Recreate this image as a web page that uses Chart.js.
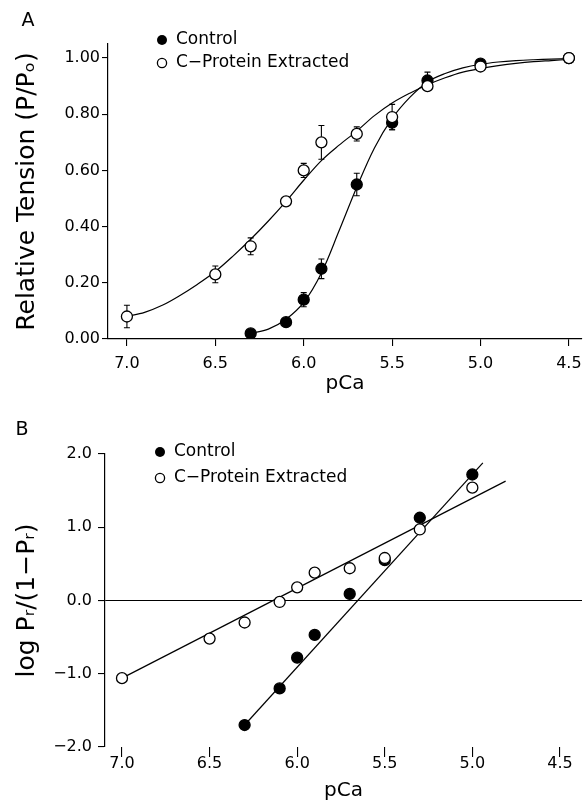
<!DOCTYPE html>
<html><head><meta charset="utf-8">
<script src="https://cdn.jsdelivr.net/npm/chart.js@4.4.0/dist/chart.umd.min.js"></script>
<style>
html,body{margin:0;padding:0;background:#fff;width:584px;height:810px;overflow:hidden}
.wrap{position:absolute;left:0;width:584px}
#wa{top:0;height:400px}
#wb{top:400px;height:410px}
canvas{display:block}
</style></head><body>
<div class="wrap" id="wa"><canvas id="ca" width="584" height="400"></canvas></div>
<div class="wrap" id="wb"><canvas id="cb" width="584" height="410"></canvas></div>
<script>
// ---------- data ----------
const seriesNames = ['Control', 'C\u2212Protein Extracted'];
const xTicks = [7.0, 6.5, 6.0, 5.5, 5.0, 4.5];
const yTicksA = [0, 0.2, 0.4, 0.6, 0.8, 1.0];
const yTicksB = [-2, -1, 0, 1, 2];

// Panel A: relative tension
const pCaControlA = [6.3, 6.1, 6.0, 5.9, 5.7, 5.5, 5.3, 5.0, 4.5];
const tensionControl = [0.02, 0.06, 0.14, 0.25, 0.55, 0.77, 0.92, 0.98, 1.00];
const errControl = [0, 0.01, 0.025, 0.035, 0.04, 0.025, 0.03, 0.01, 0];
const pCaExtractedA = [7.0, 6.5, 6.3, 6.1, 6.0, 5.9, 5.7, 5.5, 5.3, 5.0, 4.5];
const tensionExtracted = [0.08, 0.23, 0.33, 0.49, 0.60, 0.70, 0.73, 0.79, 0.90, 0.97, 1.00];
const errExtracted = [0.04, 0.03, 0.03, 0.01, 0.025, 0.06, 0.025, 0.045, 0.015, 0.01, 0];

// fitted curves
const curvePCaControl = [6.3, 6.2, 6.1, 6.0, 5.9, 5.8, 5.7, 5.6, 5.5, 5.4, 5.3, 5.2, 5.1, 5.0, 4.9, 4.8, 4.7, 4.6, 4.5];
const curveControl = [0.02, 0.035, 0.07, 0.13, 0.235, 0.385, 0.54, 0.68, 0.785, 0.86, 0.915, 0.945, 0.965, 0.978, 0.986, 0.991, 0.994, 0.996, 0.998];
const curvePCaExtracted = [7.0, 6.9, 6.8, 6.7, 6.6, 6.5, 6.4, 6.3, 6.2, 6.1, 6.0, 5.9, 5.8, 5.7, 5.6, 5.5, 5.4, 5.3, 5.2, 5.1, 5.0, 4.9, 4.8, 4.7, 4.6, 4.5];
const curveExtracted = [0.08, 0.095, 0.12, 0.155, 0.195, 0.24, 0.295, 0.355, 0.42, 0.49, 0.565, 0.635, 0.69, 0.74, 0.795, 0.84, 0.875, 0.905, 0.93, 0.95, 0.963, 0.973, 0.981, 0.987, 0.991, 0.995];

// Panel B: Hill plot
const pCaControlB = [6.3, 6.1, 6.0, 5.9, 5.7, 5.5, 5.3, 5.0];
const logControl = [-1.70, -1.20, -0.78, -0.47, 0.09, 0.55, 1.13, 1.72];
const pCaExtractedB = [7.0, 6.5, 6.3, 6.1, 6.0, 5.9, 5.7, 5.5, 5.3, 5.0];
const logExtracted = [-1.06, -0.52, -0.30, -0.02, 0.18, 0.38, 0.44, 0.58, 0.97, 1.54];
const fitPCaControlB = [6.3, 4.94];
const fitControlB = [-1.70, 1.88];
const fitPCaExtractedB = [7.0, 4.81];
const fitExtractedB = [-1.06, 1.63];

// ---------- helpers ----------
const FONT = 'DejaVu Sans';
const pts = (xs, ys) => xs.map((x, i) => ({x: x, y: ys[i]}));

function pointSet(label, xs, ys, filled) {
  return {label: label, data: pts(xs, ys), showLine: false, order: 1,
    pointRadius: 5.5, pointHoverRadius: 5.5, pointBorderWidth: 1.3,
    pointBorderColor: '#000', pointBackgroundColor: filled ? '#000' : '#fff'};
}
function lineSet(xs, ys, smooth) {
  return {label: '', data: pts(xs, ys), showLine: true, order: 2,
    pointRadius: 0, borderColor: '#000', borderWidth: 1.2, fill: false,
    tension: smooth ? 0.35 : 0};
}

function drawLegend(ctx, x, y1, y2) {
  ctx.save();
  ctx.lineWidth = 1.3; ctx.strokeStyle = '#000';
  ctx.beginPath(); ctx.arc(x, y1, 5, 0, Math.PI * 2); ctx.fillStyle = '#000'; ctx.fill();
  ctx.beginPath(); ctx.arc(x, y2, 4.6, 0, Math.PI * 2); ctx.fillStyle = '#fff'; ctx.fill(); ctx.stroke();
  ctx.fillStyle = '#000'; ctx.font = '17px "' + FONT + '"'; ctx.textBaseline = 'middle'; ctx.textAlign = 'left';
  ctx.fillText(seriesNames[0], x + 14, y1);
  ctx.fillText(seriesNames[1], x + 14, y2);
  ctx.restore();
}
function drawLetter(ctx, t, x, y) {
  ctx.save(); ctx.fillStyle = '#000'; ctx.font = '19px "' + FONT + '"';
  ctx.textAlign = 'center'; ctx.textBaseline = 'middle'; ctx.fillText(t, x, y); ctx.restore();
}

const commonX = (min, max, hasBorder, tickLen, pad, h) => ({
  type: 'linear', reverse: true, min: min, max: max,
  afterBuildTicks: s => { s.ticks = xTicks.map(v => ({value: v})); },
  afterFit: s => { s.height = h; s.paddingLeft = 0; s.paddingRight = 0; },
  grid: {display: true, drawOnChartArea: false, drawTicks: true, tickLength: tickLen, color: '#000', tickColor: '#000', lineWidth: 1.1},
  border: {display: hasBorder, color: '#000', width: 1.2},
  ticks: {color: '#000', font: {family: FONT, size: 16}, padding: pad, autoSkip: false, maxRotation: 0,
    callback: v => v.toFixed(1)},
  title: {display: true, text: 'pCa', color: '#000', font: {family: FONT, size: 20}, padding: {top: 0, bottom: 4}}
});

// ---------- Panel A ----------
const errorBarsA = {
  id: 'errA',
  beforeDatasetsDraw(chart) {
    const ctx = chart.ctx, xs = chart.scales.x, ys = chart.scales.y;
    ctx.save(); ctx.strokeStyle = '#000'; ctx.lineWidth = 1.1;
    [[pCaControlA, tensionControl, errControl], [pCaExtractedA, tensionExtracted, errExtracted]].forEach(([px, py, pe]) => {
      px.forEach((p, i) => {
        if (!pe[i]) return;
        const x = xs.getPixelForValue(p), yt = ys.getPixelForValue(py[i] + pe[i]), yb = ys.getPixelForValue(py[i] - pe[i]);
        ctx.beginPath();
        ctx.moveTo(x, yt); ctx.lineTo(x, yb);
        ctx.moveTo(x - 3, yt); ctx.lineTo(x + 3, yt);
        ctx.moveTo(x - 3, yb); ctx.lineTo(x + 3, yb);
        ctx.stroke();
      });
    });
    ctx.restore();
  },
  afterDraw(chart) {
    drawLetter(chart.ctx, 'A', 28, 21);
    drawLegend(chart.ctx, 162, 40, 63);
  }
};

new Chart(document.getElementById('ca'), {
  type: 'scatter',
  data: {datasets: [
    lineSet(curvePCaControl, curveControl, true),
    lineSet(curvePCaExtracted, curveExtracted, true),
    pointSet(seriesNames[1], pCaExtractedA, tensionExtracted, false),
    pointSet(seriesNames[0], pCaControlA, tensionControl, true)
  ]},
  options: {
    responsive: false, animation: false, devicePixelRatio: 1,
    layout: {autoPadding: false, padding: {top: 44, right: 2, left: 0, bottom: 0}},
    plugins: {legend: {display: false}, tooltip: {enabled: false}},
    scales: {
      x: commonX(4.426, 7.107, true, 7, 8, 61),
      y: {type: 'linear', min: 0, max: 1.05,
        afterBuildTicks: s => { s.ticks = yTicksA.map(v => ({value: v})); },
        afterFit: s => { s.width = 108; s.paddingTop = 0; s.paddingBottom = 0; },
        grid: {display: true, drawOnChartArea: false, drawTicks: true, tickLength: 6, color: '#000', tickColor: '#000', lineWidth: 1.1},
        border: {display: true, color: '#000', width: 1.2},
        ticks: {color: '#000', font: {family: FONT, size: 16}, padding: 2, callback: v => v.toFixed(2)},
        title: {display: true, text: 'Relative Tension (P/P\u2092)', color: '#000', font: {family: FONT, size: 25}, padding: {top: 12, bottom: 0}}
      }
    }
  },
  plugins: [errorBarsA]
});

// ---------- Panel B ----------
const decoB = {
  id: 'decoB',
  afterDraw(chart) {
    drawLetter(chart.ctx, 'B', 22, 30);
    drawLegend(chart.ctx, 160, 52, 78);
  }
};

new Chart(document.getElementById('cb'), {
  type: 'scatter',
  data: {datasets: [
    lineSet(fitPCaControlB, fitControlB, false),
    lineSet(fitPCaExtractedB, fitExtractedB, false),
    pointSet(seriesNames[1], pCaExtractedB, logExtracted, false),
    pointSet(seriesNames[0], pCaControlB, logControl, true)
  ]},
  options: {
    responsive: false, animation: false, devicePixelRatio: 1,
    layout: {autoPadding: false, padding: {top: 54, right: 2, left: 0, bottom: 3}},
    plugins: {legend: {display: false}, tooltip: {enabled: false}},
    scales: {
      x: commonX(4.374, 7.097, false, 10, -3, 60),
      y: {type: 'linear', min: -2, max: 2,
        afterBuildTicks: s => { s.ticks = yTicksB.map(v => ({value: v})); },
        afterFit: s => { s.width = 105; s.paddingTop = 0; s.paddingBottom = 0; },
        grid: {display: true, drawOnChartArea: true, drawTicks: true, tickLength: 7,
          color: c => (c.tick && c.tick.value === 0) ? '#000' : 'rgba(0,0,0,0)', tickColor: '#000', lineWidth: 1.1},
        border: {display: true, color: '#000', width: 1.2},
        ticks: {color: '#000', font: {family: FONT, size: 16}, padding: 6,
          callback: v => (v < 0 ? '\u2212' : '') + Math.abs(v).toFixed(1)},
        title: {display: true, text: 'log P\u1D63/(1\u2212P\u1D63)', color: '#000', font: {family: FONT, size: 25}, padding: {top: 12, bottom: 0}}
      }
    }
  },
  plugins: [decoB]
});
</script>
</body></html>
